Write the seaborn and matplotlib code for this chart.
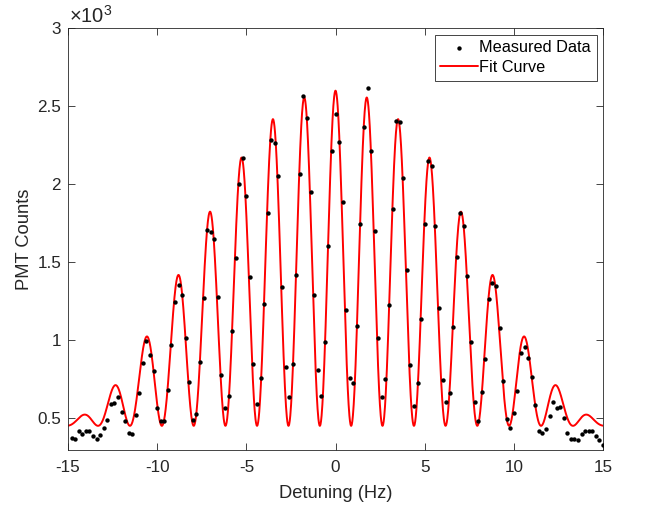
import numpy as np
import pandas as pd
import matplotlib
matplotlib.use("Agg")
import matplotlib.pyplot as plt
from matplotlib.ticker import FuncFormatter
import seaborn as sns

# ---------------- data ----------------
detuning_hz = [
    -14.8, -14.6, -14.4, -14.2, -14.0, -13.8, -13.6, -13.4, -13.2, -13.0,
    -12.8, -12.6, -12.4, -12.2, -12.0, -11.8, -11.6, -11.4, -11.2, -11.0,
    -10.8, -10.6, -10.4, -10.2, -10.0, -9.8, -9.6, -9.4, -9.2, -9.0,
    -8.8, -8.6, -8.4, -8.2, -8.0, -7.8, -7.6, -7.4, -7.2, -7.0,
    -6.8, -6.6, -6.4, -6.2, -6.0, -5.8, -5.6, -5.4, -5.2, -5.0,
    -4.8, -4.6, -4.4, -4.2, -4.0, -3.8, -3.6, -3.4, -3.2, -3.0,
    -2.8, -2.6, -2.4, -2.2, -2.0, -1.8, -1.6, -1.4, -1.2, -1.0,
    -0.8, -0.6, -0.4, -0.2, 0.0, 0.2, 0.4, 0.6, 0.8, 1.0,
    1.2, 1.4, 1.6, 1.8, 2.0, 2.2, 2.4, 2.6, 2.8, 3.0,
    3.2, 3.4, 3.6, 3.8, 4.0, 4.2, 4.4, 4.6, 4.8, 5.0,
    5.2, 5.4, 5.6, 5.8, 6.0, 6.2, 6.4, 6.6, 6.8, 7.0,
    7.2, 7.4, 7.6, 7.8, 8.0, 8.2, 8.4, 8.6, 8.8, 9.0,
    9.2, 9.4, 9.6, 9.8, 10.0, 10.2, 10.4, 10.6, 10.8, 11.0,
    11.2, 11.4, 11.6, 11.8, 12.0, 12.2, 12.4, 12.6, 12.8, 13.0,
    13.2, 13.4, 13.6, 13.8, 14.0, 14.2, 14.4, 14.6, 14.8, 15.0,
]

pmt_counts = [
    372, 367, 415, 398, 413, 416, 386, 367, 391, 435,
    484, 590, 598, 634, 540, 483, 400, 397, 516, 662,
    853, 992, 905, 799, 564, 483, 481, 678, 970, 1245,
    1355, 1287, 1014, 729, 486, 525, 858, 1271, 1703, 1690,
    1649, 1276, 778, 566, 643, 1058, 1528, 2002, 2167, 1923,
    1406, 846, 588, 758, 1231, 1816, 2282, 2261, 2049, 1338,
    829, 635, 846, 1415, 2066, 2566, 2421, 1947, 1286, 808,
    643, 987, 1604, 2213, 2449, 2267, 1883, 1194, 754, 722,
    1090, 1744, 2367, 2615, 2212, 1699, 1011, 635, 748, 1224,
    1840, 2406, 2397, 2036, 1449, 840, 577, 726, 1137, 1742,
    2147, 2117, 1729, 1207, 746, 604, 662, 1085, 1532, 1812,
    1733, 1412, 987, 604, 479, 667, 880, 1265, 1367, 1343,
    1079, 737, 494, 432, 530, 675, 915, 953, 887, 765,
    583, 417, 404, 427, 513, 604, 566, 571, 496, 404,
    367, 367, 361, 397, 419, 419, 417, 383, 357, 327,
]

# Fit parameters of the Ramsey fringe model (the "Fit Curve")
fit_offset = 449.0        # counts
fit_amplitude = 2474.0    # counts
fit_pulse_area = 1.2      # rad, per pulse
fit_pulse_time = 0.0602   # s
fit_free_time = 0.501     # s

x_ticks = [-15, -10, -5, 0, 5, 10, 15]
y_ticks = [500, 1000, 1500, 2000, 2500, 3000]


def ramsey_fit(f_hz):
    d = 2 * np.pi * np.asarray(f_hz)
    om = fit_pulse_area / fit_pulse_time
    om_r = np.sqrt(om ** 2 + d ** 2)
    a = om_r * fit_pulse_time / 2
    b = d * fit_free_time / 2
    p = 4 * (om / om_r) ** 2 * np.sin(a) ** 2 * (
        np.cos(a) * np.cos(b) - (d / om_r) * np.sin(a) * np.sin(b)) ** 2
    return fit_offset + fit_amplitude * p


meas = pd.DataFrame({"Detuning": detuning_hz, "Counts": pmt_counts})
fit_x = np.linspace(-15, 15, 2001)
fit = pd.DataFrame({"Detuning": fit_x, "Counts": ramsey_fit(fit_x)})

# ---------------- style ----------------
sns.set_style("ticks")
plt.rcParams["font.family"] = ["Liberation Sans", "DejaVu Sans"]
plt.rcParams["mathtext.fontset"] = "custom"
plt.rcParams["mathtext.rm"] = "Liberation Sans"
plt.rcParams["mathtext.it"] = "Liberation Sans:italic"
plt.rcParams["mathtext.bf"] = "Liberation Sans:bold"

dark = "#262626"

fig = plt.figure(figsize=(6.46, 5.13), dpi=100)
ax = fig.add_axes([68 / 646, 1 - 450 / 513, 535 / 646, 422 / 513])

sns.lineplot(data=fit, x="Detuning", y="Counts", color="red", linewidth=1.4,
             label="Fit Curve", ax=ax, zorder=2)
sns.scatterplot(data=meas, x="Detuning", y="Counts", color="black", s=10,
                linewidth=0, label="Measured Data", ax=ax, zorder=3)

ax.set_xlim(-15, 15)
ax.set_ylim(294, 3000)
ax.set_xticks(x_ticks)
ax.set_yticks(y_ticks)
ax.yaxis.set_major_formatter(FuncFormatter(lambda v, p: f"{v / 1000:g}"))
ax.xaxis.set_major_formatter(FuncFormatter(lambda v, p: f"{v:g}"))

ax.tick_params(direction="in", top=True, right=True, length=5, width=0.6,
               colors=dark, labelsize=12.3)
ax.tick_params(axis="x", pad=7.5)
ax.tick_params(axis="y", pad=5)
for sp in ax.spines.values():
    sp.set_color(dark)
    sp.set_linewidth(0.6)

ax.set_xlabel("Detuning (Hz)", fontsize=13.2, color=dark, labelpad=7)
ax.set_ylabel("PMT Counts", fontsize=13.2, color=dark, labelpad=3)

ax.text(0.002, 1.004, r"$\times\mathregular{10^{3}}$", transform=ax.transAxes,
        ha="left", va="bottom", fontsize=14.5, color=dark)

h, l = ax.get_legend_handles_labels()
order = [l.index("Measured Data"), l.index("Fit Curve")]
leg = ax.legend([h[i] for i in order], [l[i] for i in order],
                loc="upper right", fontsize=11.7, frameon=True, fancybox=False,
                edgecolor=dark, framealpha=1, borderaxespad=0.4,
                handlelength=2.3, handletextpad=0.1, borderpad=0.35,
                labelspacing=0.3, markerscale=1.0)
leg.get_frame().set_linewidth(0.6)
for t in leg.get_texts():
    t.set_color("black")

fig.savefig("out.png", dpi=100)
